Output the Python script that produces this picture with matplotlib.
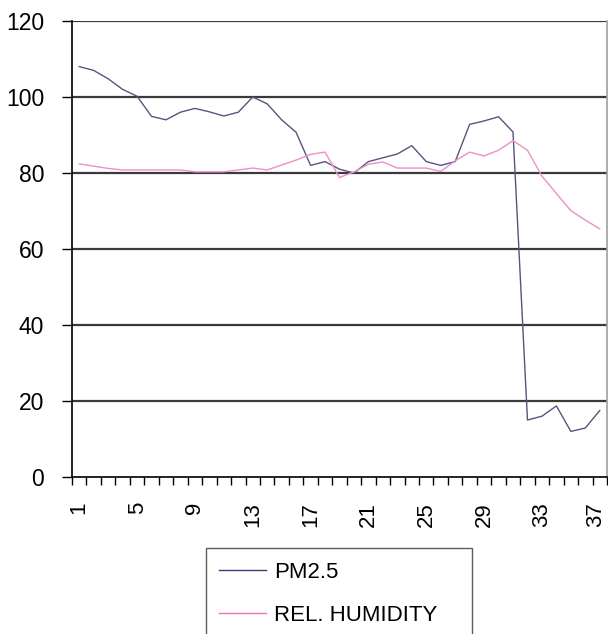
import numpy as np
import matplotlib
matplotlib.use("Agg")
import matplotlib.pyplot as plt
from matplotlib.transforms import ScaledTranslation

plt.rcParams['font.family'] = ['Liberation Sans', 'DejaVu Sans']

# Data
days = list(range(1, 38))
pm25 = [108, 107, 104.8, 102, 100.2, 94.9, 94, 96, 97, 96.1,
        95, 96, 100, 98.2, 94, 90.7, 82, 83, 81, 80,
        83, 84, 85, 87.2, 83, 82, 83, 92.8, 93.7, 94.8,
        90.8, 15, 16, 18.7, 12, 12.9, 17.5]
humidity = [82.4, 81.8, 81.2, 80.8, 80.8, 80.8, 80.8, 80.8, 80.3, 80.3,
            80.3, 80.8, 81.3, 80.8, 82.1, 83.4, 84.9, 85.5, 78.8, 80.3,
            82.3, 82.9, 81.3, 81.3, 81.3, 80.4, 83.2, 85.5, 84.5, 86,
            88.5, 86, 79.2, 74.6, 70.1, 67.6, 65.3]
label_days = [1, 5, 9, 13, 17, 21, 25, 29, 33, 37]
y_ticks = [0, 20, 40, 60, 80, 100, 120]

fig = plt.figure(figsize=(6.08, 6.34), dpi=100)
ax = fig.add_axes([72 / 608, 157 / 634, 535 / 608, 456 / 634])

# grid lines first so the series sit on top
for y in y_ticks[1:]:
    ax.axhline(y, color='#3a3a3a', lw=1.6, zorder=1)

ax.plot(days, pm25, color='#55557f', lw=1.0, label='PM2.5', zorder=3)
ax.plot(days, humidity, color='#ec8fc9', lw=1.0, label='REL. HUMIDITY', zorder=3)

ax.set_xlim(0.5, 37.5)
ax.set_ylim(0, 120)

ax.spines['top'].set_visible(False)
ax.spines['right'].set_color('#a0a0a0')
ax.spines['right'].set_linewidth(1.2)
ax.spines['left'].set_linewidth(1.2)
ax.spines['bottom'].set_linewidth(1.2)

ax.set_yticks(y_ticks)
ax.tick_params(axis='y', direction='out', length=7, width=1, pad=13, labelsize=16.5)

# tick marks between categories, labels on every 4th category
ax.set_xticks(np.arange(0.5, 38, 1))
ax.set_xticklabels([])
ax.tick_params(axis='x', which='major', direction='out', length=6, width=1)
ax.set_xticks(label_days, minor=True)
ax.set_xticklabels([str(d) for d in label_days], minor=True, rotation=90, va='top')
ax.tick_params(axis='x', which='minor', length=0, pad=18, labelsize=16)

# keep the last label inside the picture
last = ax.get_xticklabels(minor=True)[-1]
last.set_transform(last.get_transform() + ScaledTranslation(-4 / 100, 0, fig.dpi_scale_trans))

leg = fig.legend(loc='upper left', bbox_to_anchor=(206 / 608, 1 - 549 / 634, 266 / 608, 0.001),
                 mode='expand', fontsize=16, frameon=True, fancybox=False,
                 edgecolor='#333333', handlelength=2.1, handletextpad=0.35,
                 borderpad=0.6, labelspacing=1.0, borderaxespad=0)
leg.get_frame().set_linewidth(1.0)
leg.get_lines()[0].set_color('#3c3c78')
leg.get_lines()[1].set_color('#ee6ec0')

fig.savefig('out.png', dpi=100)
